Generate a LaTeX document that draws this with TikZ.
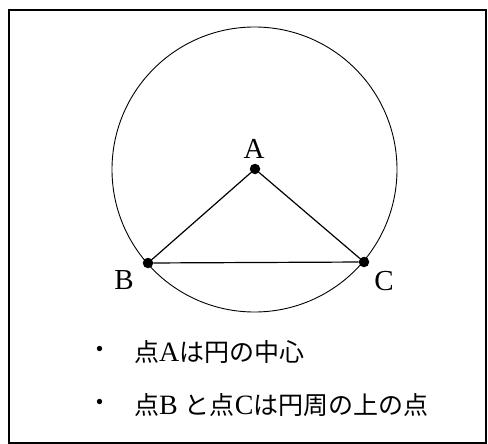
\documentclass[tikz,border=0pt]{standalone}
\usepackage{fontspec}
\setmainfont{Liberation Serif}
\newfontfamily\jpfont{Noto Sans CJK JP}
\begin{document}
\begin{tikzpicture}[x=1pt,y=-1pt,
  dot/.style={circle,fill=black,inner sep=0pt,minimum size=10.5pt},
  lbl/.style={font=\fontsize{29}{32}\selectfont,inner sep=0pt},
  txt/.style={font=\fontsize{25}{30}\selectfont,anchor=west,inner sep=0pt},
  edge/.style={line width=1.2pt}]
\useasboundingbox (0,0) rectangle (488,444);
\draw[line width=1.5pt] (9,10) rectangle (486,443);
\node[circle,draw,line width=0.9pt,minimum size=285pt,inner sep=0pt] (circ) at (254.5,169.5) {};
\node[dot] (A) at (255,169) {};
\node[dot] (B) at (148,263) {};
\node[dot] (C) at (364,262) {};
\draw[edge] (A) -- (B);
\draw[edge] (A) -- (C);
\draw[edge] (B) -- (C);
\node[lbl] (la) at (254,149) {A};
\node[lbl] (lb) at (124,280) {B};
\node[lbl] (lc) at (384,281) {C};
\node[txt] (b1) at (87,352) {\jpfont ・};
\node[txt] (t1) at (134,352) {{\jpfont 点}{\fontsize{28}{30}\selectfont A}{\jpfont は円の中心}};
\node[txt] (b2) at (87,405) {\jpfont ・};
\node[txt] (t2) at (134,405) {{\jpfont 点}{\fontsize{28}{30}\selectfont B }{\jpfont と点}{\fontsize{28}{30}\selectfont C}{\jpfont は円周の上の点}};
\end{tikzpicture}
\end{document}
